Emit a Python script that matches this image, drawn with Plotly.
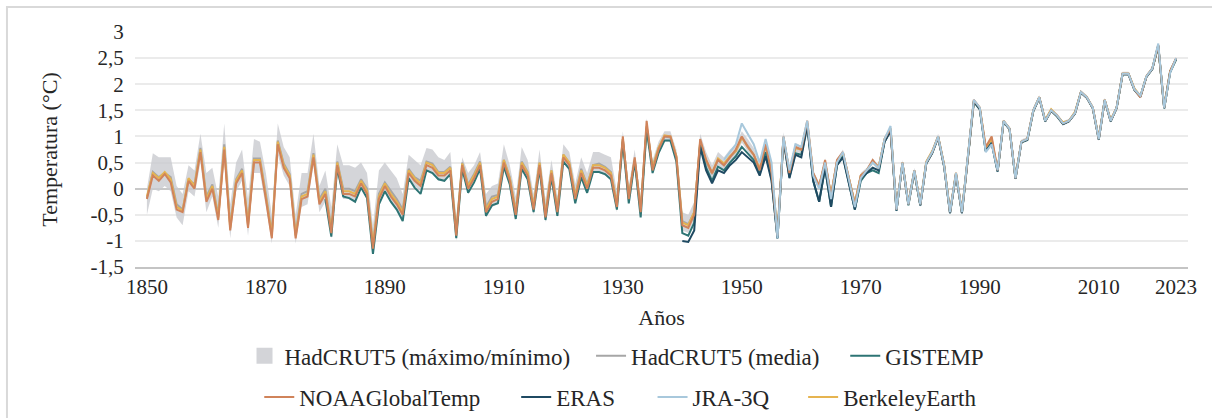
import plotly.graph_objects as go

years = list(range(1850, 2024))
gis_years = list(range(1880, 2024))
era_years = list(range(1940, 2024))
jra_years = list(range(1947, 2024))

x_tick_vals = [1850, 1870, 1890, 1910, 1930, 1950, 1970, 1990, 2010, 2023]
x_tick_text = ["1850", "1870", "1890", "1910", "1930", "1950", "1970", "1990", "2010", "2023"]
y_tick_vals = [-1.5, -1, -0.5, 0, 0.5, 1, 1.5, 2, 2.5, 3]
y_tick_text = ["-1,5", "-1", "-0,5", "0", "0,5", "1", "1,5", "2", "2,5", "3"]

noaa = [
    -0.20, 0.25, 0.15, 0.28, 0.12, -0.40, -0.45, 0.15, 0.00, 0.70,
    -0.25, 0.00, -0.60, 0.75, -0.80, 0.10, 0.30, -0.75, 0.50, 0.50,
    -0.20, -0.95, 0.85, 0.40, 0.20, -0.95, -0.20, -0.15, 0.60, -0.30,
    -0.10, -0.85, 0.45, -0.10, -0.10, -0.15, 0.10, -0.10, -1.15, -0.20,
    0.05, -0.15, -0.30, -0.50, 0.30, 0.15, 0.05, 0.45, 0.40, 0.25,
    0.25, 0.35, -0.90, 0.45, 0.00, 0.20, 0.45, -0.45, -0.25, -0.20,
    0.50, 0.15, -0.50, 0.45, 0.25, -0.40, 0.45, -0.55, 0.30, -0.45,
    0.60, 0.45, -0.20, 0.30, 0.00, 0.40, 0.40, 0.35, 0.25, -0.35,
    1.00, -0.20, 0.60, -0.45, 1.30, 0.35, 0.75, 1.00, 1.00, 0.60,
    -0.70, -0.75, -0.50, 0.95, 0.55, 0.30, 0.55, 0.45, 0.60, 0.75,
    1.00, 0.80, 0.65, 0.35, 0.85, 0.30, -0.90, 1.00, 0.30, 0.80,
    0.75, 1.30, 0.30, 0.05, 0.55, -0.15, 0.55, 0.70, 0.20, -0.30,
    0.25, 0.35, 0.55, 0.40, 0.95, 1.15, -0.40, 0.50, -0.30, 0.35,
    -0.30, 0.50, 0.70, 1.00, 0.45, -0.45, 0.30, -0.45, 0.60, 1.70,
    1.55, 0.80, 1.00, 0.35, 1.30, 1.15, 0.20, 0.90, 0.95, 1.50,
    1.75, 1.30, 1.50, 1.40, 1.25, 1.30, 1.45, 1.85, 1.75, 1.55,
    0.95, 1.70, 1.30, 1.55, 2.20, 2.20, 1.90, 1.75, 2.15, 2.30,
    2.75, 1.55, 2.25, 2.50,
]

berkeley = [
    -0.15, 0.30, 0.20, 0.32, 0.18, -0.35, -0.42, 0.20, 0.05, 0.75,
    -0.20, 0.05, -0.55, 0.80, -0.75, 0.15, 0.35, -0.70, 0.55, 0.55,
    -0.15, -0.90, 0.90, 0.45, 0.25, -0.90, -0.15, -0.10, 0.65, -0.25,
    -0.05, -0.80, 0.50, -0.05, -0.05, -0.10, 0.15, -0.05, -1.08, -0.15,
    0.10, -0.10, -0.25, -0.45, 0.35, 0.20, 0.10, 0.50, 0.45, 0.30,
    0.30, 0.40, -0.85, 0.48, 0.05, 0.25, 0.50, -0.40, -0.20, -0.15,
    0.55, 0.20, -0.45, 0.50, 0.30, -0.35, 0.50, -0.50, 0.35, -0.40,
    0.65, 0.50, -0.15, 0.35, 0.05, 0.45, 0.45, 0.40, 0.30, -0.30,
    0.95, -0.15, 0.55, -0.40, 1.20, 0.40, 0.78, 1.02, 1.00, 0.62,
    -0.65, -0.70, -0.45, 0.90, 0.55, 0.30, 0.58, 0.48, 0.62, 0.72,
    0.98, 0.80, 0.65, 0.38, 0.82, 0.32, -0.85, 0.98, 0.32, 0.78,
    0.75, 1.25, 0.28, 0.05, 0.50, -0.12, 0.52, 0.68, 0.20, -0.28,
    0.25, 0.35, 0.52, 0.42, 0.95, 1.15, -0.38, 0.50, -0.28, 0.35,
    -0.28, 0.52, 0.72, 1.00, 0.47, -0.43, 0.30, -0.43, 0.62, 1.68,
    1.55, 0.78, 0.95, 0.35, 1.30, 1.15, 0.22, 0.90, 0.95, 1.50,
    1.75, 1.32, 1.52, 1.40, 1.27, 1.30, 1.47, 1.85, 1.75, 1.55,
    0.97, 1.70, 1.32, 1.55, 2.20, 2.20, 1.92, 1.77, 2.15, 2.30,
    2.72, 1.57, 2.25, 2.48,
]

hadcrut_mean = [
    -0.18, 0.32, 0.22, 0.30, 0.22, -0.30, -0.40, 0.18, 0.08, 0.78,
    -0.15, 0.08, -0.50, 0.85, -0.70, 0.18, 0.38, -0.65, 0.58, 0.58,
    -0.10, -0.85, 0.92, 0.48, 0.28, -0.85, -0.10, -0.05, 0.68, -0.20,
    0.00, -0.75, 0.52, 0.00, 0.00, -0.05, 0.18, 0.00, -1.05, -0.10,
    0.12, -0.05, -0.20, -0.40, 0.38, 0.22, 0.15, 0.52, 0.48, 0.32,
    0.32, 0.42, -0.82, 0.50, 0.08, 0.28, 0.52, -0.35, -0.15, -0.12,
    0.55, 0.22, -0.42, 0.52, 0.32, -0.32, 0.50, -0.48, 0.35, -0.38,
    0.65, 0.50, -0.12, 0.38, 0.08, 0.45, 0.48, 0.42, 0.32, -0.28,
    0.95, -0.12, 0.55, -0.38, 1.18, 0.42, 0.78, 1.00, 0.98, 0.62,
    -0.62, -0.68, -0.45, 0.88, 0.52, 0.28, 0.55, 0.45, 0.60, 0.72,
    0.98, 0.82, 0.65, 0.38, 0.82, 0.35, -0.85, 0.98, 0.32, 0.78,
    0.75, 1.25, 0.28, 0.05, 0.50, -0.12, 0.52, 0.68, 0.18, -0.28,
    0.25, 0.35, 0.52, 0.40, 0.95, 1.15, -0.40, 0.50, -0.28, 0.35,
    -0.30, 0.50, 0.70, 1.00, 0.45, -0.45, 0.28, -0.45, 0.60, 1.68,
    1.52, 0.75, 0.92, 0.35, 1.28, 1.15, 0.20, 0.90, 0.95, 1.50,
    1.75, 1.30, 1.50, 1.40, 1.25, 1.30, 1.45, 1.85, 1.75, 1.55,
    0.95, 1.70, 1.30, 1.55, 2.20, 2.20, 1.90, 1.77, 2.15, 2.30,
    2.75, 1.55, 2.25, 2.48,
]

hadcrut_max = [
    0.00, 0.68, 0.60, 0.60, 0.60, 0.05, -0.10, 0.45, 0.35, 1.05,
    0.30, 0.40, -0.15, 1.25, -0.30, 0.50, 0.75, -0.20, 0.95, 0.90,
    0.30, -0.50, 1.25, 0.80, 0.60, -0.50, 0.30, 0.30, 1.05, 0.05,
    0.35, -0.35, 0.85, 0.45, 0.45, 0.40, 0.50, 0.30, -0.70, 0.35,
    0.50, 0.35, 0.20, -0.10, 0.65, 0.55, 0.45, 0.78, 0.75, 0.60,
    0.55, 0.70, -0.55, 0.60, 0.30, 0.45, 0.70, -0.10, 0.05, 0.10,
    0.85, 0.45, -0.15, 0.80, 0.55, -0.10, 0.75, -0.20, 0.55, -0.15,
    0.85, 0.70, 0.10, 0.60, 0.30, 0.70, 0.70, 0.65, 0.60, -0.05,
    1.10, 0.05, 0.75, -0.20, 1.35, 0.55, 0.90, 1.10, 1.10, 0.75,
    -0.45, -0.50, -0.25, 1.05, 0.70, 0.45, 0.70, 0.60, 0.75, 0.85,
    1.10, 0.95, 0.78, 0.50, 0.95, 0.50, -0.75, 1.08, 0.42, 0.88,
    0.82, 1.32, 0.35, 0.12, 0.58, -0.05, 0.58, 0.75, 0.25, -0.22,
    0.30, 0.40, 0.58, 0.45, 1.00, 1.20, -0.35, 0.55, -0.23, 0.40,
    -0.25, 0.55, 0.75, 1.05, 0.50, -0.40, 0.33, -0.40, 0.65, 1.72,
    1.57, 0.80, 0.97, 0.40, 1.32, 1.19, 0.24, 0.94, 0.99, 1.54,
    1.79, 1.34, 1.54, 1.44, 1.29, 1.34, 1.49, 1.89, 1.79, 1.59,
    0.99, 1.74, 1.34, 1.59, 2.24, 2.24, 1.94, 1.81, 2.19, 2.34,
    2.79, 1.59, 2.29, 2.52,
]

hadcrut_min = [
    -0.50, 0.00, -0.05, 0.05, -0.05, -0.55, -0.70, -0.05, -0.15, 0.50,
    -0.45, -0.15, -0.75, 0.55, -0.95, -0.05, 0.15, -0.90, 0.30, 0.30,
    -0.35, -1.05, 0.65, 0.25, 0.05, -1.05, -0.35, -0.30, 0.45, -0.45,
    -0.25, -0.95, 0.30, -0.20, -0.20, -0.25, 0.00, -0.20, -1.25, -0.30,
    -0.05, -0.25, -0.40, -0.60, 0.20, 0.05, -0.05, 0.35, 0.30, 0.15,
    0.15, 0.25, -1.00, 0.35, -0.10, 0.10, 0.35, -0.55, -0.35, -0.30,
    0.40, 0.05, -0.60, 0.35, 0.15, -0.50, 0.35, -0.65, 0.20, -0.55,
    0.50, 0.35, -0.30, 0.20, -0.10, 0.30, 0.30, 0.25, 0.15, -0.45,
    0.85, -0.30, 0.45, -0.55, 1.05, 0.28, 0.65, 0.90, 0.90, 0.50,
    -0.80, -0.85, -0.60, 0.78, 0.42, 0.18, 0.45, 0.35, 0.50, 0.62,
    0.88, 0.72, 0.55, 0.28, 0.72, 0.22, -0.95, 0.90, 0.22, 0.70,
    0.68, 1.20, 0.20, -0.02, 0.45, -0.18, 0.47, 0.62, 0.12, -0.34,
    0.20, 0.30, 0.47, 0.35, 0.90, 1.10, -0.45, 0.45, -0.33, 0.30,
    -0.35, 0.45, 0.65, 0.95, 0.40, -0.50, 0.23, -0.50, 0.55, 1.64,
    1.48, 0.70, 0.88, 0.30, 1.24, 1.11, 0.16, 0.86, 0.91, 1.46,
    1.71, 1.26, 1.46, 1.36, 1.21, 1.26, 1.41, 1.81, 1.71, 1.51,
    0.91, 1.66, 1.26, 1.51, 2.16, 2.16, 1.86, 1.73, 2.11, 2.26,
    2.71, 1.51, 2.21, 2.44,
]

gistemp = [
    -0.20, -0.92, 0.40, -0.15, -0.18, -0.25, 0.02, -0.18, -1.25, -0.30,
    -0.05, -0.25, -0.40, -0.62, 0.20, 0.02, -0.10, 0.35, 0.30, 0.18,
    0.15, 0.28, -0.95, 0.38, -0.08, 0.12, 0.38, -0.52, -0.32, -0.28,
    0.42, 0.08, -0.58, 0.38, 0.18, -0.45, 0.38, -0.60, 0.22, -0.52,
    0.52, 0.38, -0.28, 0.22, -0.08, 0.32, 0.32, 0.28, 0.18, -0.40,
    0.90, -0.28, 0.52, -0.55, 1.15, 0.30, 0.68, 0.92, 0.92, 0.52,
    -0.85, -0.90, -0.65, 0.85, 0.40, 0.15, 0.42, 0.35, 0.50, 0.62,
    0.80, 0.68, 0.55, 0.28, 0.70, 0.18, -0.95, 0.95, 0.22, 0.68,
    0.65, 1.22, 0.15, -0.25, 0.40, -0.35, 0.45, 0.62, 0.10, -0.40,
    0.15, 0.30, 0.35, 0.30, 0.90, 1.12, -0.42, 0.48, -0.32, 0.32,
    -0.32, 0.48, 0.68, 0.98, 0.43, -0.47, 0.27, -0.47, 0.58, 1.66,
    1.52, 0.72, 0.88, 0.33, 1.28, 1.14, 0.19, 0.89, 0.93, 1.48,
    1.74, 1.29, 1.49, 1.38, 1.24, 1.29, 1.44, 1.84, 1.74, 1.54,
    0.94, 1.69, 1.29, 1.54, 2.19, 2.19, 1.89, 1.76, 2.14, 2.29,
    2.73, 1.54, 2.23, 2.47,
]

era5 = [
    -1.00, -1.02, -0.80, 0.80, 0.35, 0.10, 0.35, 0.30, 0.45, 0.55,
    0.70, 0.60, 0.50, 0.25, 0.62, 0.15, -0.95, 0.95, 0.20, 0.65,
    0.60, 1.20, 0.15, -0.25, 0.40, -0.35, 0.45, 0.60, 0.10, -0.40,
    0.20, 0.30, 0.40, 0.35, 0.90, 1.10, -0.42, 0.48, -0.30, 0.33,
    -0.32, 0.48, 0.68, 0.98, 0.43, -0.47, 0.28, -0.47, 0.58, 1.67,
    1.53, 0.72, 0.87, 0.33, 1.29, 1.14, 0.19, 0.89, 0.94, 1.49,
    1.74, 1.29, 1.49, 1.39, 1.24, 1.29, 1.44, 1.84, 1.74, 1.54,
    0.94, 1.69, 1.29, 1.54, 2.19, 2.19, 1.89, 1.76, 2.14, 2.29,
    2.74, 1.54, 2.24, 2.49,
]

jra3q = [
    0.55, 0.70, 0.85,
    1.25, 1.05, 0.85, 0.50, 0.95, 0.50, -0.95, 1.00, 0.35, 0.85,
    0.80, 1.30, 0.25, 0.00, 0.50, -0.20, 0.50, 0.70, 0.15, -0.35,
    0.20, 0.35, 0.50, 0.40, 0.95, 1.20, -0.40, 0.50, -0.30, 0.35,
    -0.30, 0.50, 0.70, 1.00, 0.45, -0.45, 0.30, -0.45, 0.60, 1.70,
    1.55, 0.70, 0.85, 0.35, 1.30, 1.15, 0.20, 0.90, 0.95, 1.50,
    1.75, 1.30, 1.50, 1.40, 1.25, 1.30, 1.45, 1.85, 1.75, 1.55,
    0.95, 1.70, 1.30, 1.55, 2.20, 2.20, 1.90, 1.78, 2.15, 2.30,
    2.78, 1.55, 2.22, 2.50,
]

assert len(noaa) == len(years) == len(berkeley) == len(hadcrut_mean) == len(hadcrut_max) == len(hadcrut_min)
assert len(gistemp) == len(gis_years)
assert len(era5) == len(era_years)
assert len(jra3q) == len(jra_years)

FONT = "'Liberation Serif', 'Times New Roman', 'DejaVu Serif', serif"
TXT = "#262626"
band_color = "rgba(200,201,206,0.78)"

fig = go.Figure()

fig.add_trace(go.Scatter(x=years, y=hadcrut_min, mode="lines", line=dict(width=0),
                         showlegend=False, legendgroup="band", hoverinfo="skip"))
fig.add_trace(go.Scatter(x=years, y=hadcrut_max, mode="lines", line=dict(width=0),
                         fill="tonexty", fillcolor=band_color,
                         showlegend=False, legendgroup="band", hoverinfo="skip"))
fig.add_trace(go.Scatter(x=[None], y=[None], mode="markers",
                         marker=dict(symbol="square", size=16, color="#d3d4d8"),
                         name="HadCRUT5 (máximo/mínimo)", legend="legend", legendgroup="band"))

series = [
    ("HadCRUT5 (media)", years, hadcrut_mean, "#a6a6a6", "legend2"),
    ("BerkeleyEarth", years, berkeley, "#e6b450", "legend7"),
    ("GISTEMP", gis_years, gistemp, "#2d7474", "legend3"),
    ("ERAS", era_years, era5, "#1f4a62", "legend5"),
    ("NOAAGlobalTemp", years, noaa, "#d0835a", "legend4"),
    ("JRA-3Q", jra_years, jra3q, "#a8c8dc", "legend6"),
]
for name, xs, ys, col, leg in series:
    fig.add_trace(go.Scatter(x=xs, y=ys, mode="lines", name=name,
                             line=dict(color=col, width=2), legend=leg))

row1_y = -0.378
row2_y = -0.553
leg_pos = {
    "legend": (0.1040, row1_y),
    "legend2": (0.4331, row1_y),
    "legend3": (0.6745, row1_y),
    "legend4": (0.1180, row2_y),
    "legend5": (0.3620, row2_y),
    "legend6": (0.4915, row2_y),
    "legend7": (0.6345, row2_y),
}
legends = {}
for key, (lx, ly) in leg_pos.items():
    legends[key] = dict(x=lx, y=ly, xanchor="left", yanchor="middle",
                        orientation="h", bgcolor="rgba(0,0,0,0)", borderwidth=0,
                        font=dict(family=FONT, size=23, color=TXT))

fig.update_layout(
    width=1212, height=418,
    margin=dict(l=135, r=24, t=32, b=151, autoexpand=False),
    paper_bgcolor="white", plot_bgcolor="white",
    font=dict(family=FONT, size=21, color=TXT),
    showlegend=True,
    xaxis=dict(range=[1848, 2025], tickmode="array", tickvals=x_tick_vals, ticktext=x_tick_text,
               showgrid=False, zeroline=False, showline=True, linecolor="#c4c4c4", linewidth=2,
               ticks="",
               tickfont=dict(family=FONT, size=21, color=TXT),
               title=dict(text="Años", font=dict(family=FONT, size=22, color=TXT), standoff=11)),
    yaxis=dict(range=[-1.5, 3], tickmode="array", tickvals=y_tick_vals, ticktext=y_tick_text,
               showgrid=True, gridcolor="#ebebeb", gridwidth=1.5,
               zeroline=True, zerolinecolor="#c8c8c8", zerolinewidth=2, showline=False,
               ticks="outside", ticklen=6, tickcolor="rgba(0,0,0,0)",
               tickfont=dict(family=FONT, size=21, color=TXT),
               title=dict(text="Temperatura (°C)", font=dict(family=FONT, size=22, color=TXT), standoff=26)),
    shapes=[dict(type="rect", xref="paper", yref="paper",
                 x0=-0.1216, x1=1.05, y0=-0.75, y1=1.1064,
                 line=dict(color="#d9d9d9", width=2), fillcolor="rgba(0,0,0,0)", layer="below")],
    **legends,
)

fig.write_html("out.html")
